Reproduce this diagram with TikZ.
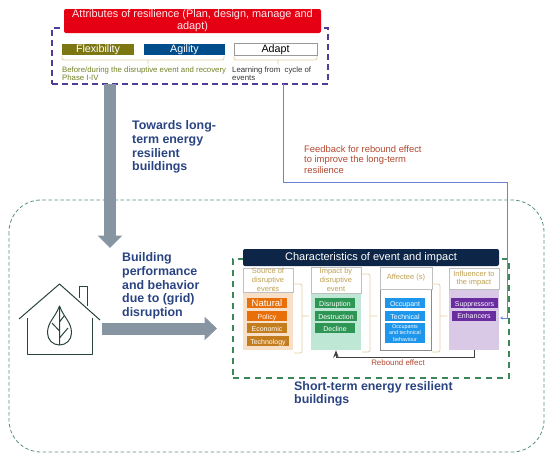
\documentclass[tikz,border=0pt]{standalone}
\usepackage{fontspec}
\setmainfont{Liberation Sans}
\usepackage{tikz}
\usepackage{xcolor}
\usetikzlibrary{arrows.meta,calc,positioning}
\definecolor{attrred}{RGB}{230,0,20}
\definecolor{attrpurple}{RGB}{80,60,150}
\definecolor{headblue}{RGB}{42,68,130}
\definecolor{arrowgrey}{RGB}{135,148,162}
\definecolor{outergreen}{RGB}{85,145,115}
\definecolor{innergreen}{RGB}{60,135,90}
\definecolor{barnavy}{RGB}{13,38,72}
\definecolor{bracetan}{RGB}{226,208,165}
\definecolor{headtan}{RGB}{190,160,80}
\definecolor{fbblue}{RGB}{110,130,215}
\definecolor{fbred}{RGB}{176,72,48}
\definecolor{housegreen}{RGB}{40,70,55}
\definecolor{orangeA}{RGB}{232,112,10}
\definecolor{orangeB}{RGB}{195,125,30}
\definecolor{greenA}{RGB}{46,150,85}
\definecolor{blueA}{RGB}{30,150,235}
\definecolor{purpleA}{RGB}{105,45,160}
\definecolor{bodyorange}{RGB}{248,223,200}
\definecolor{bodygreen}{RGB}{190,232,213}
\definecolor{bodypurple}{RGB}{217,200,230}
\tikzset{
  attrbox/.style={minimum height=11.5pt,inner sep=0pt,text height=0.72em,text depth=0.1em,font=\fontsize{10.7}{11}\selectfont},
  chip/.style={minimum height=10pt,inner sep=0pt,text=white,text height=0.72em,text depth=0.1em,font=\fontsize{7}{8}\selectfont},
  colhead/.style={draw=black!25,fill=white,line width=0.6pt,inner sep=0pt,align=center,text=headtan,font=\fontsize{7.5}{8.7}\selectfont},
  colbody/.style={inner sep=0pt},
  brace/.style={draw=bracetan,line width=0.8pt,rounded corners=2pt},
  bigtext/.style={anchor=north west,inner sep=0pt,align=left,text=headblue,font=\bfseries\fontsize{12.4}{13.7}\selectfont},
  greyarrow/.style={arrowgrey,line width=12pt},
  housepen/.style={housegreen,line width=1pt,line join=round}
}
\begin{document}
\begin{tikzpicture}[x=1pt,y=-1pt,>=Stealth]
  \useasboundingbox (0,0) rectangle (550,456);
  \draw[outergreen,line width=0.8pt,dash pattern=on 3.5pt off 2.5pt,rounded corners=32pt] (9,200) rectangle (544,452);
  \node[draw=innergreen,line width=1.3pt,dash pattern=on 6pt off 5pt,minimum width=276pt,minimum height=119pt,inner sep=0pt] (shortbox) at (371,318.5) {};

  \node[draw=attrpurple,line width=1.4pt,dash pattern=on 6pt off 4pt,minimum width=276pt,minimum height=56pt,inner sep=0pt] (attrframe) at (190,56) {};
  \node[fill=attrred,rounded corners=2pt,minimum width=257pt,minimum height=24pt,inner sep=0pt,text=white!92!red,align=center,font=\fontsize{10.9}{12}\selectfont] (attrtitle) at (192.5,21) {Attributes of resilience (Plan, design, manage and\\adapt)};
  \node[attrbox,fill=olive!85!black,text=white,minimum width=72pt] (flex) at (98,49.5) {Flexibility};
  \node[attrbox,fill=blue!45!cyan!55!black,text=white,minimum width=81pt] (agility) at (184.5,49.5) {Agility};
  \node[attrbox,draw=black!40,fill=white,line width=0.7pt,minimum width=83pt] (adapt) at (275.5,49.5) {Adapt};
  \draw[brace] (62,56) -- (62,60) -- (224,60) -- (224,56) (148,60) -- (148,64);
  \draw[brace] (234,56) -- (234,60) -- (317,60) -- (317,56) (278,60) -- (278,64);
  \node[anchor=north west,inner sep=0pt,align=left,text=olive!70!green!80!black,font=\fontsize{7.8}{8.6}\selectfont] (beforetext) at (62,66.5) {Before/during the disruptive event and recovery\\Phase I-IV};
  \node[anchor=north west,inner sep=0pt,align=left,text=black!80,font=\fontsize{7.8}{8.6}\selectfont] (learntext) at (232,66.5) {Learning from\ \ cycle of\\events};

  \coordinate (towardstart) at (110,84);
  \coordinate (towardend) at (110,248);
  \draw[greyarrow,-{Triangle[length=12.5pt,width=24pt]}] (towardstart) -- (towardend);
  \node[bigtext] (towards) at (132,120.5) {Towards long-\\term energy\\resilient\\buildings};
  \node[bigtext] (building) at (122,252.5) {Building\\performance\\and behavior\\due to (grid)\\disruption};

  \draw[housepen] (19,319) -- (59.5,284) -- (100,320);
  \draw[housepen] (27,318) -- (27,354) -- (92,354) -- (92,318);
  \draw[housepen] (79,298) -- (79,286) -- (87,286) -- (87,306);
  \draw[housepen] (59.5,306) .. controls (55,318) and (47.5,322) .. (47.5,333) .. controls (47.5,340) and (53,345) .. (59.5,345) .. controls (66,345) and (71.5,340) .. (71.5,333) .. controls (71.5,322) and (64,318) .. (59.5,306) -- cycle;
  \draw[housepen] (59.5,306) -- (59.5,345) (59.5,331) -- (52,323) (59.5,338) -- (68,328) (59.5,322) -- (64,316);

  \coordinate (housestart) at (102,328.5);
  \coordinate (houseend) at (217,328.5);
  \draw[greyarrow,-{Triangle[length=12.5pt,width=23pt]}] (housestart) -- (houseend);

  \node[fill=barnavy,rounded corners=2pt,minimum width=256pt,minimum height=17pt,inner sep=0pt,text=white,font=\fontsize{11}{12}\selectfont] (charbar) at (371,257.5) {Characteristics of event and impact};

  \node[colbody,fill=bodyorange,minimum width=50pt,minimum height=58pt] (sourcebody) at (268,321) {};
  \node[colbody,fill=bodygreen,minimum width=50pt,minimum height=57pt] (impactbody) at (336,321.5) {};
  \node[colbody,draw=black!45,fill=white,line width=1pt,minimum width=51pt,minimum height=61pt] (affectbody) at (406,319.5) {};
  \node[colbody,fill=bodypurple,minimum width=50pt,minimum height=61pt] (influbody) at (474,319.5) {};

  \node[colhead,minimum width=50pt,minimum height=24pt] (sourcehead) at (268,280) {Source of\\disruptive\\events};
  \node[colhead,minimum width=50pt,minimum height=26pt] (impacthead) at (336,280) {Impact by\\disruptive\\event};
  \node[colhead,minimum width=52pt,minimum height=22pt] (affecthead) at (406,278) {Affectee (s)};
  \node[colhead,minimum width=50pt,minimum height=21pt] (influhead) at (474,278.5) {Influencer to\\the impact};

  \foreach \nm/\cx/\cy/\chipw/\col/\lbl in {
    natural/267/303/40/orangeA/{\fontsize{9.5}{10}\selectfont Natural},
    policy/267/316/40/orangeA/Policy,
    economic/267/328/40/orangeB/Economic,
    technology/268/341/42/orangeB/Technology,
    disruption/335/303/40/greenA/Disruption,
    destruction/336/316/42/greenA/Destruction,
    decline/335/328/40/greenA/Decline,
    occupant/405/303/40/blueA/Occupant,
    technical/405/316/40/blueA/Technical,
    suppressors/474.5/303/47/purpleA/Suppressors,
    enhancers/474/315.5/44/purpleA/Enhancers}
    \node[chip,fill=\col,minimum width=\chipw pt] (\nm) at (\cx,\cy) {\lbl};
  \node[fill=blueA,text=white,inner sep=0pt,align=center,minimum width=40pt,minimum height=20pt,font=\fontsize{5.4}{6.4}\selectfont] (bothtech) at (405,333) {Occupants\\and technical\\behaviour};

  \foreach \xa/\ya/\yb/\ym in {294/284/353/316,362/274/352/316,432/284/352/316}
    \draw[brace] (\xa,\ya) -- (\xa+8,\ya) -- (\xa+8,\yb) -- (\xa,\yb) (\xa+8,\ym) -- (\xa+15,\ym);

  \draw[black!75,line width=1pt,->] (influbody.south) -- (474,357) -- (336,357) -- (impactbody.south);
  \node[inner sep=0pt,text=fbred,font=\fontsize{7.9}{8}\selectfont] (rebound) at (398,363) {Rebound effect};

  \coordinate (fbstart) at (283,84);
  \coordinate (fbcorner) at (507,182);
  \coordinate (fbend) at (500,318);
  \draw[fbblue,line width=0.8pt,-{Stealth[length=3pt,width=3pt]}] (fbstart) |- (fbcorner) |- (fbend);
  \node[anchor=north west,inner sep=0pt,align=left,text=fbred,font=\fontsize{9.4}{10.3}\selectfont] (feedback) at (304,145.5) {Feedback for rebound effect\\to improve the long-term\\resilience};
  \node[bigtext] (shortterm) at (294,381) {Short-term energy resilient\\buildings};
\end{tikzpicture}
\end{document}
